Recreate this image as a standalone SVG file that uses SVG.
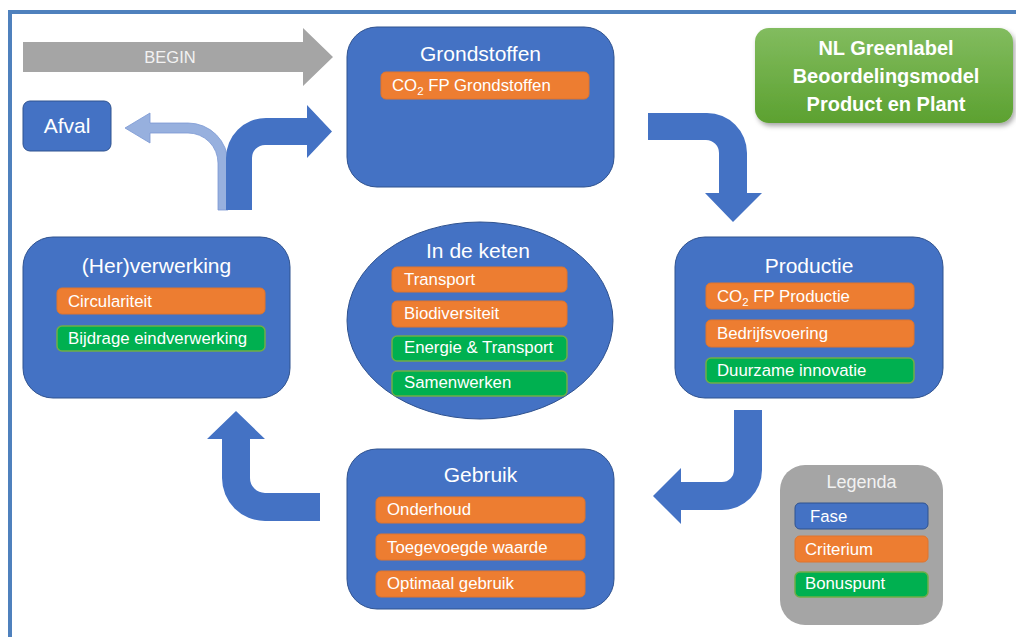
<svg xmlns="http://www.w3.org/2000/svg" width="1016" height="637" viewBox="0 0 1016 637">
<defs>
<style>
.phase{fill:#4472c4;stroke:#2f528f;stroke-width:1}
.crit{fill:#ed7d31;stroke:#e0752c;stroke-width:1}
.bonus{fill:#00b050;stroke:#70ad47;stroke-width:1.5}
.arrow{fill:#4472c4}
text{font-family:"Liberation Sans",Arial,sans-serif;fill:#ffffff}
.title{font-size:21px;text-anchor:middle}
.item{font-size:16.8px}
.gl{font-size:20px;font-weight:bold;text-anchor:middle}
</style>
<linearGradient id="green" x1="0" y1="0" x2="0" y2="1">
<stop offset="0" stop-color="#82bc5f"/>
<stop offset="1" stop-color="#5ca130"/>
</linearGradient>
<filter id="shadow" x="-10%" y="-10%" width="130%" height="140%">
<feDropShadow dx="2" dy="3" stdDeviation="2.5" flood-color="#000000" flood-opacity="0.35"/>
</filter>
</defs>
<rect x="0" y="0" width="1016" height="637" fill="#ffffff"/>
<rect x="10" y="12" width="1030" height="650" fill="none" stroke="#4f81bd" stroke-width="4"/>

<g id="connectors">
<g id="begin-arrow">
<path d="M23,42 H303 V28 L333,57 L303,86 V72 H23 Z" fill="#a5a5a5"/>
<text x="170" y="63" style="font-size:16.5px;text-anchor:middle;fill:#f2f2f2">BEGIN</text>
</g>
<path id="to-afval" d="M228,210 V163 A40,40 0 0 0 188,123 H150 V113 L125,128 L150,143 V133 H188 A30,30 0 0 1 218,163 V210 Z" fill="#97b0de" stroke="#7b98d3" stroke-width="0.8"/>
<path id="to-grondstoffen" class="arrow" d="M226,210 V158 A40,40 0 0 1 266,118 H307 V105 L332,131.5 L307,158 V145 H265 A13,13 0 0 0 252,158 V210 Z"/>
<path id="to-productie" class="arrow" d="M648,113 H707 A40,40 0 0 1 747,153 V193 H762 L733,222 L705,193 H719 V153 A13,13 0 0 0 706,140 H648 Z"/>
<path id="to-gebruik" class="arrow" d="M734,410 H762 V470 A40,40 0 0 1 722,510 H681 V524 L653,496 L681,468 V482 H722 A12,12 0 0 0 734,470 Z"/>
<path id="to-herverwerking" class="arrow" d="M320,493 V521 H265 A43,43 0 0 1 222,478 V439 H207 L236,411 L265,439 H250 V478 A15,15 0 0 0 265,493 Z"/>
</g>

<g id="afval">
<rect class="phase" x="23" y="101" width="88" height="50" rx="7"/>
<text x="67" y="133" class="title">Afval</text>
</g>

<g id="grondstoffen">
<rect class="phase" x="347" y="27" width="267" height="160" rx="30"/>
<text x="480.5" y="61" class="title">Grondstoffen</text>
<rect class="crit" x="381" y="72" width="208" height="27" rx="5"/>
<text x="392" y="91" class="item">CO<tspan font-size="11.5" dy="4">2</tspan><tspan dy="-4"> FP Grondstoffen</tspan></text>
</g>

<g id="greenlabel">
<rect x="755" y="28" width="258" height="95" rx="14" fill="url(#green)" filter="url(#shadow)"/>
<text x="886" y="55" class="gl">NL Greenlabel</text>
<text x="886" y="83" class="gl">Beoordelingsmodel</text>
<text x="886" y="111" class="gl">Product en Plant</text>
</g>

<g id="herverwerking">
<rect class="phase" x="23" y="237" width="267" height="161" rx="30"/>
<text x="156.5" y="273" class="title">(Her)verwerking</text>
<rect class="crit" x="57" y="288" width="208" height="26" rx="5"/>
<text x="68" y="307" class="item">Circulariteit</text>
<rect class="bonus" x="57" y="326" width="208" height="25" rx="5"/>
<text x="68" y="344" class="item">Bijdrage eindverwerking</text>
</g>

<g id="in-de-keten">
<ellipse class="phase" cx="480" cy="320.5" rx="133" ry="98.5"/>
<text x="478" y="258" class="title">In de keten</text>
<rect class="crit" x="392" y="267" width="175" height="25" rx="5"/>
<text x="404" y="285" class="item">Transport</text>
<rect class="crit" x="392" y="301" width="175" height="26" rx="5"/>
<text x="404" y="319" class="item">Biodiversiteit</text>
<rect class="bonus" x="392" y="336" width="175" height="25" rx="5"/>
<text x="404" y="353" class="item">Energie &amp; Transport</text>
<rect class="bonus" x="392" y="371" width="175" height="25" rx="5"/>
<text x="404" y="388" class="item">Samenwerken</text>
</g>

<g id="productie">
<rect class="phase" x="675" y="237" width="268" height="161" rx="30"/>
<text x="809" y="273" class="title">Productie</text>
<rect class="crit" x="706" y="283" width="208" height="26" rx="5"/>
<text x="717" y="302" class="item">CO<tspan font-size="11.5" dy="4">2</tspan><tspan dy="-4"> FP Productie</tspan></text>
<rect class="crit" x="706" y="320" width="208" height="27" rx="5"/>
<text x="717" y="339" class="item">Bedrijfsvoering</text>
<rect class="bonus" x="706" y="358" width="208" height="25" rx="5"/>
<text x="717" y="376" class="item">Duurzame innovatie</text>
</g>

<g id="gebruik">
<rect class="phase" x="347" y="449" width="267" height="160" rx="30"/>
<text x="480.5" y="482" class="title">Gebruik</text>
<rect class="crit" x="376" y="497" width="209" height="26" rx="5"/>
<text x="387" y="515" class="item">Onderhoud</text>
<rect class="crit" x="376" y="534" width="209" height="26" rx="5"/>
<text x="387" y="553" class="item">Toegevoegde waarde</text>
<rect class="crit" x="376" y="571" width="209" height="26" rx="5"/>
<text x="387" y="589" class="item">Optimaal gebruik</text>
</g>

<g id="legenda">
<rect x="780" y="465" width="163" height="160" rx="25" fill="#a5a5a5"/>
<text x="861.5" y="488" class="title" style="font-size:18px;fill:#f2f2f2">Legenda</text>
<rect class="phase" x="795" y="503" width="133" height="26" rx="5"/>
<text x="810" y="522" class="item">Fase</text>
<rect class="crit" x="795" y="536" width="133" height="26" rx="5"/>
<text x="805" y="555" class="item">Criterium</text>
<rect class="bonus" x="795" y="572" width="133" height="25" rx="5"/>
<text x="805" y="589" class="item">Bonuspunt</text>
</g>
</svg>
